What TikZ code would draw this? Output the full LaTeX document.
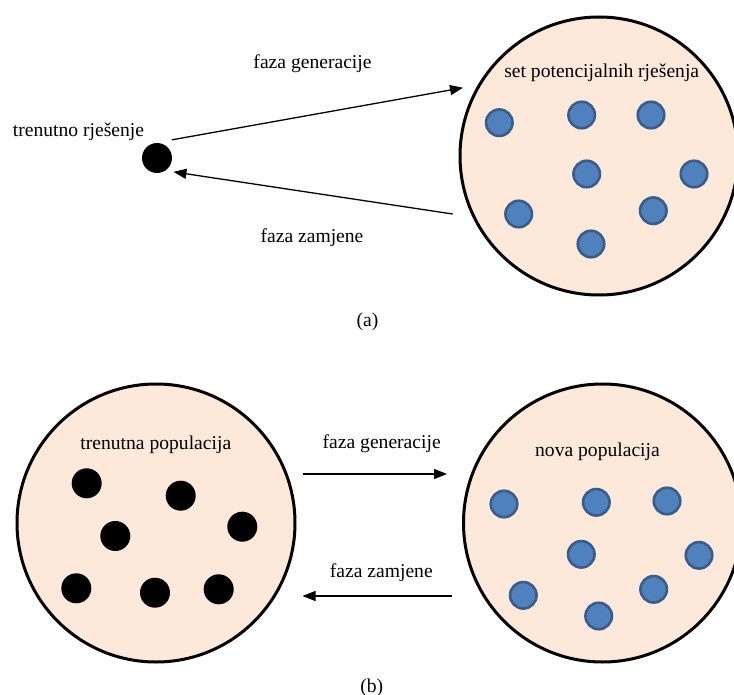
\documentclass[tikz,border=0pt]{standalone}
\usepackage{fontspec}
\setmainfont{Liberation Serif}
\usetikzlibrary{arrows.meta}
\definecolor{peach}{HTML}{FDE9D9}
\definecolor{dotblue}{HTML}{4F81BD}
\definecolor{dotedge}{HTML}{385D8A}
\tikzstyle{pop} = [circle, minimum size=278pt, inner sep=0pt, fill=peach, draw=black, line width=3pt]
\tikzstyle{sol} = [circle, minimum size=30pt, inner sep=0pt, fill=black]
\tikzstyle{cand} = [circle, minimum size=26.5pt, inner sep=0pt, fill=dotblue, draw=dotedge, line width=2.6pt]
\tikzstyle{lbl} = [inner sep=0pt, font=\fontsize{19.6}{23}\selectfont]
\tikzstyle{arrow} = [line width=1.3pt, -{Triangle[length=13pt,width=10pt]}]

\begin{document}
\begin{tikzpicture}[x=1pt, y=-1pt]
\useasboundingbox (0,0) rectangle (734,695);

% (a)
\node (pool) [pop] at (599,156) {};
\node (curr) [sol] at (157,158) {};

\node (lcurr) [lbl] at (78.5,131.7) {trenutno rješenje};
\node (lpool) [lbl] at (601.7,72.5) {set potencijalnih rješenja};
\node (lgena) [lbl] at (312.5,63.8) {faza generacije};
\node (lzama) [lbl] at (312,237.5) {faza zamjene};

\node (s1) [cand] at (499.3,122.7) {};
\node (s2) [cand] at (581.7,115) {};
\node (s3) [cand] at (651,115) {};
\node (s4) [cand] at (586.7,174) {};
\node (s5) [cand] at (694,174) {};
\node (s6) [cand] at (518.7,214) {};
\node (s7) [cand] at (653.3,210.7) {};
\node (s8) [cand] at (591,244) {};

\draw [arrow] ([xshift=5pt, yshift=6.5pt]curr.50) -- ([xshift=-14.3pt, yshift=-2pt]pool.150);
\draw [arrow] ([xshift=-16pt, yshift=-5.4pt]pool.202) -- ([xshift=4.8pt, yshift=-4.1pt]curr.-40);

\node (capa) [lbl] at (367.5,321.5) {(a)};

% (b)
\node (popa) [pop] at (156,523) {};
\node (popb) [pop] at (602.5,523) {};

\node (lpopa) [lbl] at (155.8,445) {trenutna populacija};
\node (lpopb) [lbl] at (597.5,451.5) {nova populacija};
\node (lgenb) [lbl] at (381.7,444) {faza generacije};
\node (lzamb) [lbl] at (381.3,572.5) {faza zamjene};

\node (c1) [sol] at (86.7,483.3) {};
\node (c2) [sol] at (180.7,495.7) {};
\node (c3) [sol] at (115.3,536) {};
\node (c4) [sol] at (242.3,526.7) {};
\node (c5) [sol] at (76.3,588.3) {};
\node (c6) [sol] at (155,592.7) {};
\node (c7) [sol] at (218.7,589.3) {};

\node (n1) [cand] at (504,504) {};
\node (n2) [cand] at (596.3,502.3) {};
\node (n3) [cand] at (667,501) {};
\node (n4) [cand] at (581.3,554.3) {};
\node (n5) [cand] at (699,555.3) {};
\node (n6) [cand] at (523.3,595.3) {};
\node (n7) [cand] at (653.7,589.3) {};
\node (n8) [cand] at (598.7,616) {};

\draw [arrow] ([xshift=6pt, yshift=49pt]popa.east) -- ([xshift=-15pt, yshift=49pt]popb.west);
\draw [arrow] ([xshift=-10pt, yshift=-73pt]popb.west) -- ([xshift=6pt, yshift=-73pt]popa.east);

\node (capb) [lbl] at (371.7,687.5) {(b)};

\end{tikzpicture}
\end{document}
